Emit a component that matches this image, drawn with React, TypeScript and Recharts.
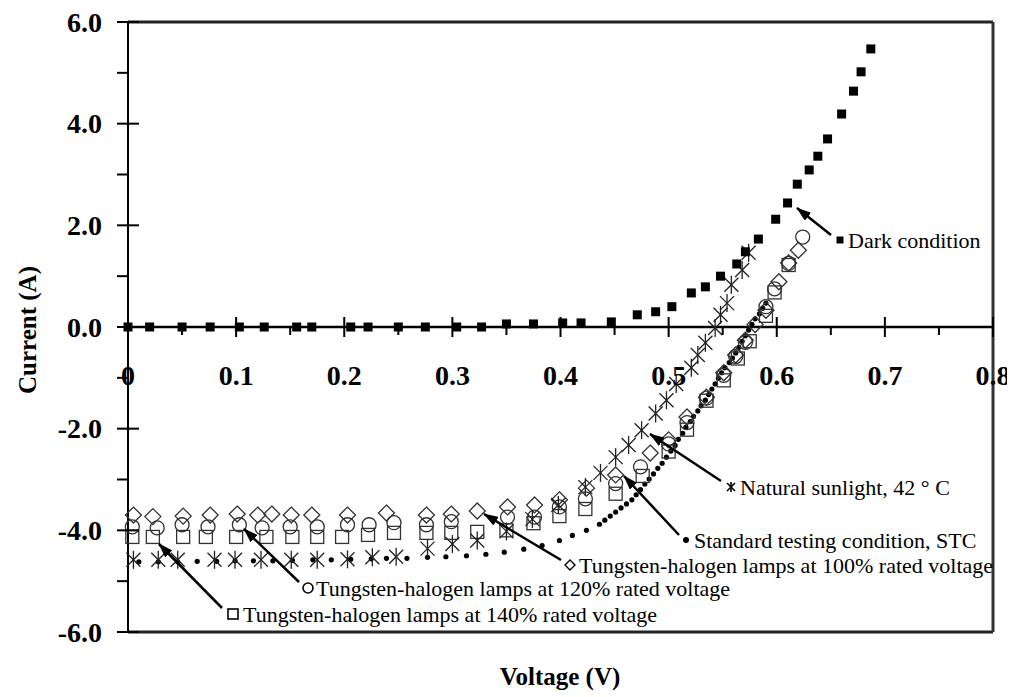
import React from 'react';
import { ScatterChart, Scatter, XAxis, YAxis, ReferenceLine } from 'recharts';

const FONT = 'Liberation Serif, DejaVu Serif, serif';

// Dark condition (filled squares)
const darkV = [0, 0.02, 0.05, 0.076, 0.103, 0.126, 0.156, 0.17, 0.206, 0.222, 0.25, 0.275, 0.304, 0.327, 0.35, 0.375, 0.402, 0.419, 0.447, 0.471, 0.488, 0.503, 0.521, 0.534, 0.548, 0.563, 0.571, 0.583, 0.599, 0.61, 0.619, 0.63, 0.638, 0.647, 0.66, 0.671, 0.678, 0.687];
const darkI = [0, 0, 0, 0, 0, 0, 0, 0, 0, 0, 0, 0, 0, 0, 0.06, 0.06, 0.08, 0.08, 0.1, 0.24, 0.3, 0.4, 0.67, 0.79, 1.0, 1.24, 1.48, 1.73, 2.12, 2.44, 2.81, 3.09, 3.36, 3.7, 4.19, 4.64, 5.02, 5.47];

// Natural sunlight, 42 °C (asterisks)
const sunV = [0.005, 0.028, 0.046, 0.08, 0.099, 0.123, 0.151, 0.175, 0.203, 0.226, 0.248, 0.277, 0.3, 0.323, 0.35, 0.374, 0.398, 0.423, 0.437, 0.451, 0.463, 0.475, 0.488, 0.498, 0.507, 0.521, 0.527, 0.534, 0.543, 0.548, 0.554, 0.558, 0.568, 0.574];
const sunI = [-4.58, -4.58, -4.58, -4.58, -4.58, -4.58, -4.58, -4.58, -4.57, -4.53, -4.52, -4.36, -4.27, -4.2, -4.02, -3.78, -3.5, -3.15, -2.87, -2.56, -2.32, -2.03, -1.7, -1.44, -1.12, -0.8, -0.55, -0.31, -0.02, 0.24, 0.47, 0.83, 1.12, 1.46];

// Tungsten-halogen lamps at 100% rated voltage (diamonds)
const th100V = [0.005, 0.023, 0.051, 0.076, 0.101, 0.12, 0.133, 0.151, 0.17, 0.203, 0.239, 0.276, 0.299, 0.323, 0.351, 0.376, 0.399, 0.424, 0.451, 0.483, 0.5, 0.517, 0.535, 0.551, 0.562, 0.571, 0.58, 0.59, 0.602, 0.611, 0.62];
const th100I = [-3.7, -3.73, -3.72, -3.7, -3.68, -3.7, -3.68, -3.7, -3.7, -3.7, -3.66, -3.7, -3.68, -3.62, -3.54, -3.5, -3.4, -3.17, -2.91, -2.48, -2.22, -1.77, -1.38, -0.9, -0.55, -0.26, 0.05, 0.33, 0.89, 1.26, 1.51];

// Tungsten-halogen lamps at 120% rated voltage (circles)
const th120V = [0.004, 0.027, 0.05, 0.074, 0.103, 0.124, 0.15, 0.175, 0.203, 0.223, 0.246, 0.276, 0.299, 0.351, 0.376, 0.399, 0.423, 0.451, 0.474, 0.5, 0.517, 0.535, 0.551, 0.562, 0.571, 0.59, 0.598, 0.611, 0.624];
const th120I = [-3.93, -3.95, -3.89, -3.93, -3.89, -3.95, -3.93, -3.93, -3.89, -3.89, -3.85, -3.89, -3.83, -3.74, -3.74, -3.54, -3.38, -3.08, -2.75, -2.3, -1.88, -1.4, -0.95, -0.58, -0.3, 0.4, 0.75, 1.25, 1.77];

// Tungsten-halogen lamps at 140% rated voltage (open squares)
const th140V = [0.004, 0.023, 0.051, 0.072, 0.1, 0.128, 0.152, 0.175, 0.198, 0.222, 0.246, 0.276, 0.299, 0.323, 0.35, 0.375, 0.399, 0.423, 0.451, 0.476, 0.5, 0.517, 0.535, 0.551, 0.564, 0.575, 0.59, 0.598, 0.611];
const th140I = [-4.13, -4.13, -4.13, -4.13, -4.13, -4.13, -4.13, -4.13, -4.13, -4.09, -4.05, -4.05, -4.05, -4.03, -4.0, -3.86, -3.72, -3.58, -3.28, -2.93, -2.45, -2.02, -1.45, -1.05, -0.62, -0.28, 0.22, 0.68, 1.22];

// Standard testing condition, STC (dotted)
const stcV = [0.01, 0.028, 0.046, 0.064, 0.082, 0.099, 0.116, 0.134, 0.152, 0.171, 0.188, 0.206, 0.225, 0.239, 0.258, 0.277, 0.294, 0.313, 0.331, 0.348, 0.366, 0.383, 0.399, 0.411, 0.424, 0.436, 0.441, 0.446, 0.451, 0.456, 0.461, 0.466, 0.47, 0.474, 0.478, 0.482, 0.486, 0.49, 0.494, 0.498, 0.502, 0.506, 0.509, 0.513, 0.516, 0.52, 0.523, 0.527, 0.53, 0.534, 0.537, 0.54, 0.543, 0.546, 0.549, 0.552, 0.556, 0.559, 0.562, 0.565, 0.568, 0.571, 0.574, 0.577, 0.58, 0.584, 0.587, 0.59];
const stcI = [-4.62, -4.62, -4.62, -4.61, -4.61, -4.6, -4.6, -4.6, -4.59, -4.58, -4.58, -4.57, -4.56, -4.55, -4.55, -4.53, -4.52, -4.5, -4.47, -4.43, -4.37, -4.3, -4.2, -4.1, -4.0, -3.88, -3.8, -3.72, -3.64, -3.56, -3.48, -3.4, -3.3, -3.2, -3.09, -2.99, -2.89, -2.78, -2.68, -2.56, -2.44, -2.33, -2.21, -2.09, -1.97, -1.86, -1.76, -1.65, -1.55, -1.44, -1.33, -1.22, -1.12, -1.01, -0.9, -0.8, -0.7, -0.61, -0.51, -0.4, -0.28, -0.17, -0.06, 0.05, 0.16, 0.26, 0.37, 0.47];

const xTicks = [0, 0.05, 0.1, 0.15, 0.2, 0.25, 0.3, 0.35, 0.4, 0.45, 0.5, 0.55, 0.6, 0.65, 0.7, 0.75, 0.8];
const yTicks = [-6, -5, -4, -3, -2, -1, 0, 1, 2, 3, 4, 5, 6];

const zip = (vs: number[], is: number[]) => vs.map((v, k) => ({ v, i: is[k] }));

const PLOT_TOP = 14;
const PLOT_H = 610;
const ZERO_Y = PLOT_TOP + PLOT_H / 2;

const boldText = { fontFamily: FONT, fontWeight: 700 };

const XTick = (props: any) => {
  const { x, payload } = props;
  const v: number = payload.value;
  const major = Math.round(v * 100) % 10 === 0;
  return (
    <g>
      <line x1={x} x2={x} y1={major ? ZERO_Y - 10 : ZERO_Y} y2={major ? ZERO_Y + 10 : ZERO_Y + 8} stroke="#000" strokeWidth={2} />
      {major && (
        <text x={x} y={ZERO_Y + 48} textAnchor="middle" dominantBaseline="central"
          style={{ ...boldText, fontSize: 28 }} fill="#000">
          {v === 0 ? '0' : v.toFixed(1)}
        </text>
      )}
    </g>
  );
};

const YTick = (props: any) => {
  const { x, y, payload } = props;
  const v: number = payload.value;
  const major = v % 2 === 0;
  return (
    <g>
      <line x1={x - 11} x2={major ? x + 11 : x} y1={y} y2={y} stroke="#000" strokeWidth={2} />
      {major && (
        <text x={x - 26} y={y} textAnchor="end" dominantBaseline="central"
          style={{ ...boldText, fontSize: 28 }} fill="#000">
          {v.toFixed(1)}
        </text>
      )}
    </g>
  );
};

const FilledSquare = ({ cx, cy }: any) => <rect x={cx - 4.5} y={cy - 4.5} width={9} height={9} fill="#000" />;
const OpenSquare = ({ cx, cy }: any) => <rect x={cx - 6.5} y={cy - 6.5} width={13} height={13} fill="none" stroke="#333" strokeWidth={1.3} />;
const OpenCircle = ({ cx, cy }: any) => <circle cx={cx} cy={cy} r={7} fill="none" stroke="#333" strokeWidth={1.3} />;
const OpenDiamond = ({ cx, cy }: any) => (
  <polygon points={`${cx},${cy - 8} ${cx + 8},${cy} ${cx},${cy + 8} ${cx - 8},${cy}`} fill="none" stroke="#333" strokeWidth={1.3} />
);
const Asterisk = ({ cx, cy }: any) => (
  <g stroke="#222" strokeWidth={1.3}>
    <line x1={cx - 7} y1={cy - 7} x2={cx + 7} y2={cy + 7} />
    <line x1={cx - 7} y1={cy + 7} x2={cx + 7} y2={cy - 7} />
    <line x1={cx} y1={cy - 9} x2={cx} y2={cy + 9} />
  </g>
);
const Dot = ({ cx, cy }: any) => <circle cx={cx} cy={cy} r={2.6} fill="#000" />;

const notes = [
  { text: 'Dark condition', mark: 'fsq', mx: 840, my: 240, tx: 848, from: [831, 235], to: [797, 208] },
  { text: 'Natural sunlight, 42 ° C', mark: 'ast', mx: 731, my: 487, tx: 740, from: [721, 481], to: [650, 434] },
  { text: 'Standard testing condition, STC', mark: 'dot', mx: 686, my: 540, tx: 694, from: [679, 535], to: [624, 476] },
  { text: 'Tungsten-halogen lamps at 100% rated voltage', mark: 'dia', mx: 570, my: 565, tx: 579, from: [561, 560], to: [484, 514] },
  { text: 'Tungsten-halogen lamps at 120% rated voltage', mark: 'cir', mx: 308, my: 588, tx: 316, from: [299, 582], to: [244, 529] },
  { text: 'Tungsten-halogen lamps at 140% rated voltage', mark: 'osq', mx: 233, my: 614, tx: 243, from: [222, 608], to: [159, 544] },
];

const NoteMark = ({ kind, x, y }: { kind: string; x: number; y: number }) => {
  if (kind === 'fsq') return <rect x={x - 3.5} y={y - 3.5} width={7} height={7} fill="#000" />;
  if (kind === 'dot') return <circle cx={x} cy={y} r={3} fill="#000" />;
  if (kind === 'cir') return <circle cx={x} cy={y} r={5} fill="none" stroke="#000" strokeWidth={1.6} />;
  if (kind === 'osq') return <rect x={x - 5} y={y - 5} width={10} height={10} fill="none" stroke="#000" strokeWidth={1.6} />;
  if (kind === 'dia') return <polygon points={`${x},${y - 5} ${x + 5},${y} ${x},${y + 5} ${x - 5},${y}`} fill="none" stroke="#000" strokeWidth={1.4} />;
  return (
    <g stroke="#000" strokeWidth={1.6}>
      <line x1={x - 4} y1={y - 4} x2={x + 4} y2={y + 4} />
      <line x1={x - 4} y1={y + 4} x2={x + 4} y2={y - 4} />
      <line x1={x} y1={y - 5} x2={x} y2={y + 5} />
    </g>
  );
};

export default function App() {
  return (
    <div style={{ position: 'relative', width: 1007, height: 689, fontFamily: FONT }}>
      <ScatterChart width={1007} height={689} margin={{ top: PLOT_TOP, right: 22, left: 0, bottom: 0 }}>
        <XAxis type="number" dataKey="v" domain={[0, 0.8]} ticks={xTicks} interval={0} height={65}
          axisLine={false} tickLine={false} tickSize={0} tickMargin={0} tick={<XTick />} />
        <YAxis type="number" dataKey="i" domain={[-6, 6]} ticks={yTicks} interval={0} width={120}
          axisLine={{ stroke: '#000', strokeWidth: 2 }} tickLine={false} tickSize={0} tickMargin={0} tick={<YTick />} />
        <ReferenceLine y={6} stroke="#222" strokeWidth={3} />
        <ReferenceLine y={-6} stroke="#222" strokeWidth={3} />
        <ReferenceLine x={0.8} stroke="#333" strokeWidth={3} />
        <ReferenceLine y={0} stroke="#000" strokeWidth={2.5} />
        <Scatter data={zip(stcV, stcI)} shape={<Dot />} isAnimationActive={false} />
        <Scatter data={zip(th140V, th140I)} shape={<OpenSquare />} isAnimationActive={false} />
        <Scatter data={zip(th120V, th120I)} shape={<OpenCircle />} isAnimationActive={false} />
        <Scatter data={zip(th100V, th100I)} shape={<OpenDiamond />} isAnimationActive={false} />
        <Scatter data={zip(sunV, sunI)} shape={<Asterisk />} isAnimationActive={false} />
        <Scatter data={zip(darkV, darkI)} shape={<FilledSquare />} isAnimationActive={false} />
      </ScatterChart>

      {/* annotations and axis titles, drawn in page coordinates */}
      <svg width={1015} height={697} style={{ position: 'absolute', left: -8, top: -8, pointerEvents: 'none' }}>
        <defs>
          <marker id="ah" markerUnits="userSpaceOnUse" markerWidth={15} markerHeight={10} refX={14} refY={5} orient="auto">
            <path d="M0,0 L15,5 L0,10 z" fill="#000" />
          </marker>
        </defs>
        {notes.map((n) => (
          <g key={n.text}>
            <line x1={n.from[0]} y1={n.from[1]} x2={n.to[0]} y2={n.to[1]} stroke="#000" strokeWidth={2.5} markerEnd="url(#ah)" />
            <NoteMark kind={n.mark} x={n.mx} y={n.my} />
            <text x={n.tx} y={n.my} dominantBaseline="central" style={{ fontFamily: FONT, fontSize: 22 }} fill="#000">{n.text}</text>
          </g>
        ))}
        <text x={27} y={330} transform="rotate(-90 27 330)" textAnchor="middle" dominantBaseline="central"
          style={{ ...boldText, fontSize: 25 }} fill="#000">Current (A)</text>
        <text x={560} y={676} textAnchor="middle" dominantBaseline="central"
          style={{ ...boldText, fontSize: 25 }} fill="#000">Voltage (V)</text>
      </svg>
    </div>
  );
}
